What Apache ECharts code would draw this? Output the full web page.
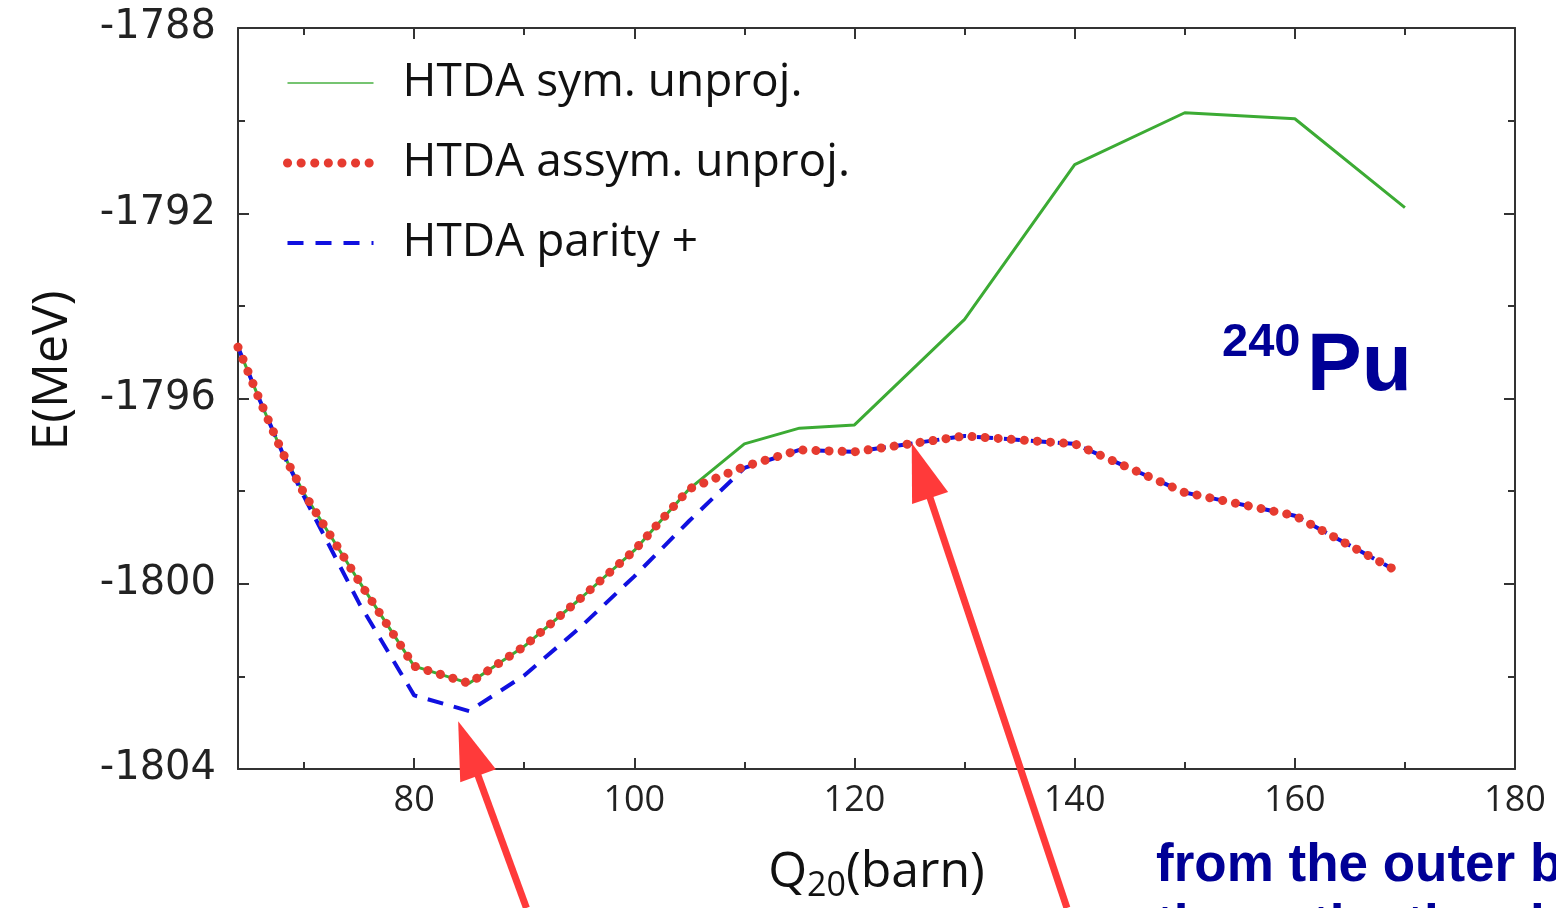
<!doctype html>
<html>
<head>
<meta charset="utf-8">
<script src="https://cdn.jsdelivr.net/npm/echarts@6/dist/echarts.min.js"></script>
<style>html,body{margin:0;padding:0;background:#fff}#main{width:1556px;height:908px}</style>
</head>
<body>
<div id="main"></div>
<script type="text/javascript">
// Q20 (barn) sampling
var qSym  = [64, 66, 68, 70, 75, 80, 85, 90, 95, 100, 105, 110, 115, 120, 130, 140, 150, 160, 170];
var qAsym = [64, 66, 68, 70, 75, 80, 85, 90, 95, 100, 105, 110, 115, 120, 130, 140, 150, 160, 169];
// E (MeV)
var eSym    = [-1794.89, -1796.05, -1797.15, -1798.05, -1799.95, -1801.78, -1802.15, -1801.35, -1800.34, -1799.28, -1797.95,
               -1796.98, -1796.64, -1796.57, -1794.29, -1790.95, -1789.83, -1789.96, -1791.88];
var eAsym   = [-1794.89, -1796.05, -1797.15, -1798.05, -1799.95, -1801.78, -1802.15, -1801.35, -1800.34, -1799.28, -1797.95,
               -1797.47, -1797.11, -1797.15, -1796.81, -1796.98, -1798.03, -1798.53, -1799.69];
var eParity = [-1794.89, -1796.05, -1797.15, -1798.12, -1800.42, -1802.41, -1802.75, -1801.98, -1800.96, -1799.84, -1798.64,
               -1797.50, -1797.11, -1797.15, -1796.81, -1796.98, -1798.03, -1798.53, -1799.69];

var xMajor = [80, 100, 120, 140, 160, 180];
var xMinor = [70, 90, 110, 130, 150, 170];

// annotation arrows: tip and tail in data units
var arrowTips  = [[84.0, -1802.97], [125.2, -1796.96]];
var arrowTails = [[90.2, -1807.0], [139.3, -1807.0]];

function pairs(xs, ys) {
	var res = [];
	for (var i = 0; i < xs.length; i++) {
		res.push([xs[i], ys[i]]);
	}
	return res;
}

var myChart = echarts.init(document.getElementById('main'));
var axisCol = '#333';
var green = '#3cab34', red = '#e63b30', blue = '#1010e0';

function xAx(pos, ticks, len, showLine, withLabel) {
	return {
		type: 'value', position: pos, min: 64, max: 180,
		axisLine: {show: showLine, onZero: false, lineStyle: {color: axisCol, width: 2}},
		axisTick: {show: true, inside: true, length: len, customValues: ticks, lineStyle: {color: axisCol, width: 2}},
		axisLabel: withLabel ? {customValues: ticks, fontSize: 36, fontFamily: 'Open Sans', color: '#222', margin: 14} : {show: false},
		splitLine: {show: false}
	};
}
function yAx(pos, withLabel) {
	return {
		type: 'value', position: pos, min: -1804, max: -1788, interval: 4,
		axisLine: {show: true, onZero: false, lineStyle: {color: axisCol, width: 2}},
		axisTick: {show: true, inside: true, length: 11, lineStyle: {color: axisCol, width: 2}},
		minorTick: {show: true, splitNumber: 2, length: 7, lineStyle: {color: axisCol, width: 2}},
		axisLabel: withLabel ? {
			fontSize: 40, fontFamily: 'DejaVu Sans', color: '#222', margin: 22,
			formatter: function (v) { return String(v); }
		} : {show: false},
		splitLine: {show: false}
	};
}

var xBottom = xAx('bottom', xMajor, 11, true, true);
xBottom.name = '{q|Q}{s|20}{q|(barn)}';
xBottom.nameLocation = 'middle';
xBottom.nameGap = 74;
xBottom.nameTextStyle = {
	rich: {
		q: {fontSize: 50, fontFamily: 'Open Sans', color: '#111'},
		s: {fontSize: 34, fontFamily: 'Open Sans', color: '#111', padding: [26, 0, 0, 0]}
	}
};
var yLeft = yAx('left', true);
yLeft.name = 'E(MeV)';
yLeft.nameLocation = 'middle';
yLeft.nameGap = 160;
yLeft.nameTextStyle = {fontSize: 50, fontFamily: 'Open Sans', color: '#111', padding: [0, 0, 0, 56]};

option = {
	backgroundColor: '#fff',
	animation: false,
	grid: {left: 238, right: 41, top: 28, bottom: 137},
	legend: {
		orient: 'vertical', left: 278, top: 50,
		itemWidth: 86, itemHeight: 14, itemGap: 24,
		itemStyle: {opacity: 0},
		textStyle: {fontSize: 46, fontFamily: 'Open Sans', color: '#111', lineHeight: 56, padding: [0, 0, 0, 24]},
		data: [
			{name: 'HTDA sym. unproj.', lineStyle: {color: green, width: 2, opacity: 0.7}},
			{name: 'HTDA assym. unproj.', lineStyle: {color: red, width: 9, type: [0.1, 13.5], cap: 'round'}},
			{name: 'HTDA parity +', lineStyle: {color: blue, width: 4, type: [16, 12]}}
		]
	},
	xAxis: [xBottom, xAx('bottom', xMinor, 7, false, false), xAx('top', xMajor, 11, true, false), xAx('top', xMinor, 7, false, false)],
	yAxis: [yLeft, yAx('right', false)],
	series: [
		{
			name: 'HTDA sym. unproj.', type: 'line', xAxisIndex: 0, yAxisIndex: 0,
			data: pairs(qSym, eSym), symbol: 'none', z: 2,
			lineStyle: {color: green, width: 3}, itemStyle: {color: green}
		},
		{
			name: 'HTDA parity +', type: 'line', xAxisIndex: 0, yAxisIndex: 0,
			data: pairs(qAsym, eParity), symbol: 'none', z: 3,
			lineStyle: {color: blue, width: 4, type: [16, 11]}, itemStyle: {color: blue}
		},
		{
			name: 'HTDA assym. unproj.', type: 'line', xAxisIndex: 0, yAxisIndex: 0,
			data: pairs(qAsym, eAsym), symbol: 'none', z: 4,
			lineStyle: {color: red, width: 9, type: [0.1, 13], cap: 'round'}, itemStyle: {color: red}
		}
	],
	graphic: [
		{type: 'text', left: 1222, top: 320, style: {text: '240', font: 'bold 47px "Liberation Sans"', fill: '#000096'}},
		{type: 'text', left: 1307, top: 326, style: {text: 'Pu', font: 'bold 82px "Liberation Sans"', fill: '#000096'}},
		{type: 'text', left: 1156, top: 840, style: {text: 'from the outer barrier', font: 'bold 53px "Liberation Sans"', fill: '#000096'}},
		{type: 'text', left: 1156, top: 901, style: {text: 'the paths they l', font: 'bold 53px "Liberation Sans"', fill: '#000096'}}
	]
};

myChart.setOption(option);

// red arrows pointing at the curves
var arrows = [];
for (var i = 0; i < arrowTips.length; i++) {
	var tip = myChart.convertToPixel({seriesIndex: 0}, arrowTips[i]);
	var tail = myChart.convertToPixel({seriesIndex: 0}, arrowTails[i]);
	var dx = tip[0] - tail[0], dy = tip[1] - tail[1];
	var len = Math.sqrt(dx * dx + dy * dy);
	var ux = dx / len, uy = dy / len;
	var headLen = 58, hw = 19;
	var bx = tip[0] - ux * headLen, by = tip[1] - uy * headLen;
	arrows.push({
		type: 'line', z: 50,
		shape: {x1: tail[0], y1: tail[1], x2: bx + ux * 4, y2: by + uy * 4},
		style: {stroke: '#ff3a3a', lineWidth: 7}
	});
	arrows.push({
		type: 'polygon', z: 50,
		shape: {points: [[tip[0], tip[1]], [bx - uy * hw, by + ux * hw], [bx + uy * hw, by - ux * hw]]},
		style: {fill: '#ff3a3a'}
	});
}
myChart.setOption({graphic: option.graphic.concat(arrows)});
</script>
</body>
</html>
